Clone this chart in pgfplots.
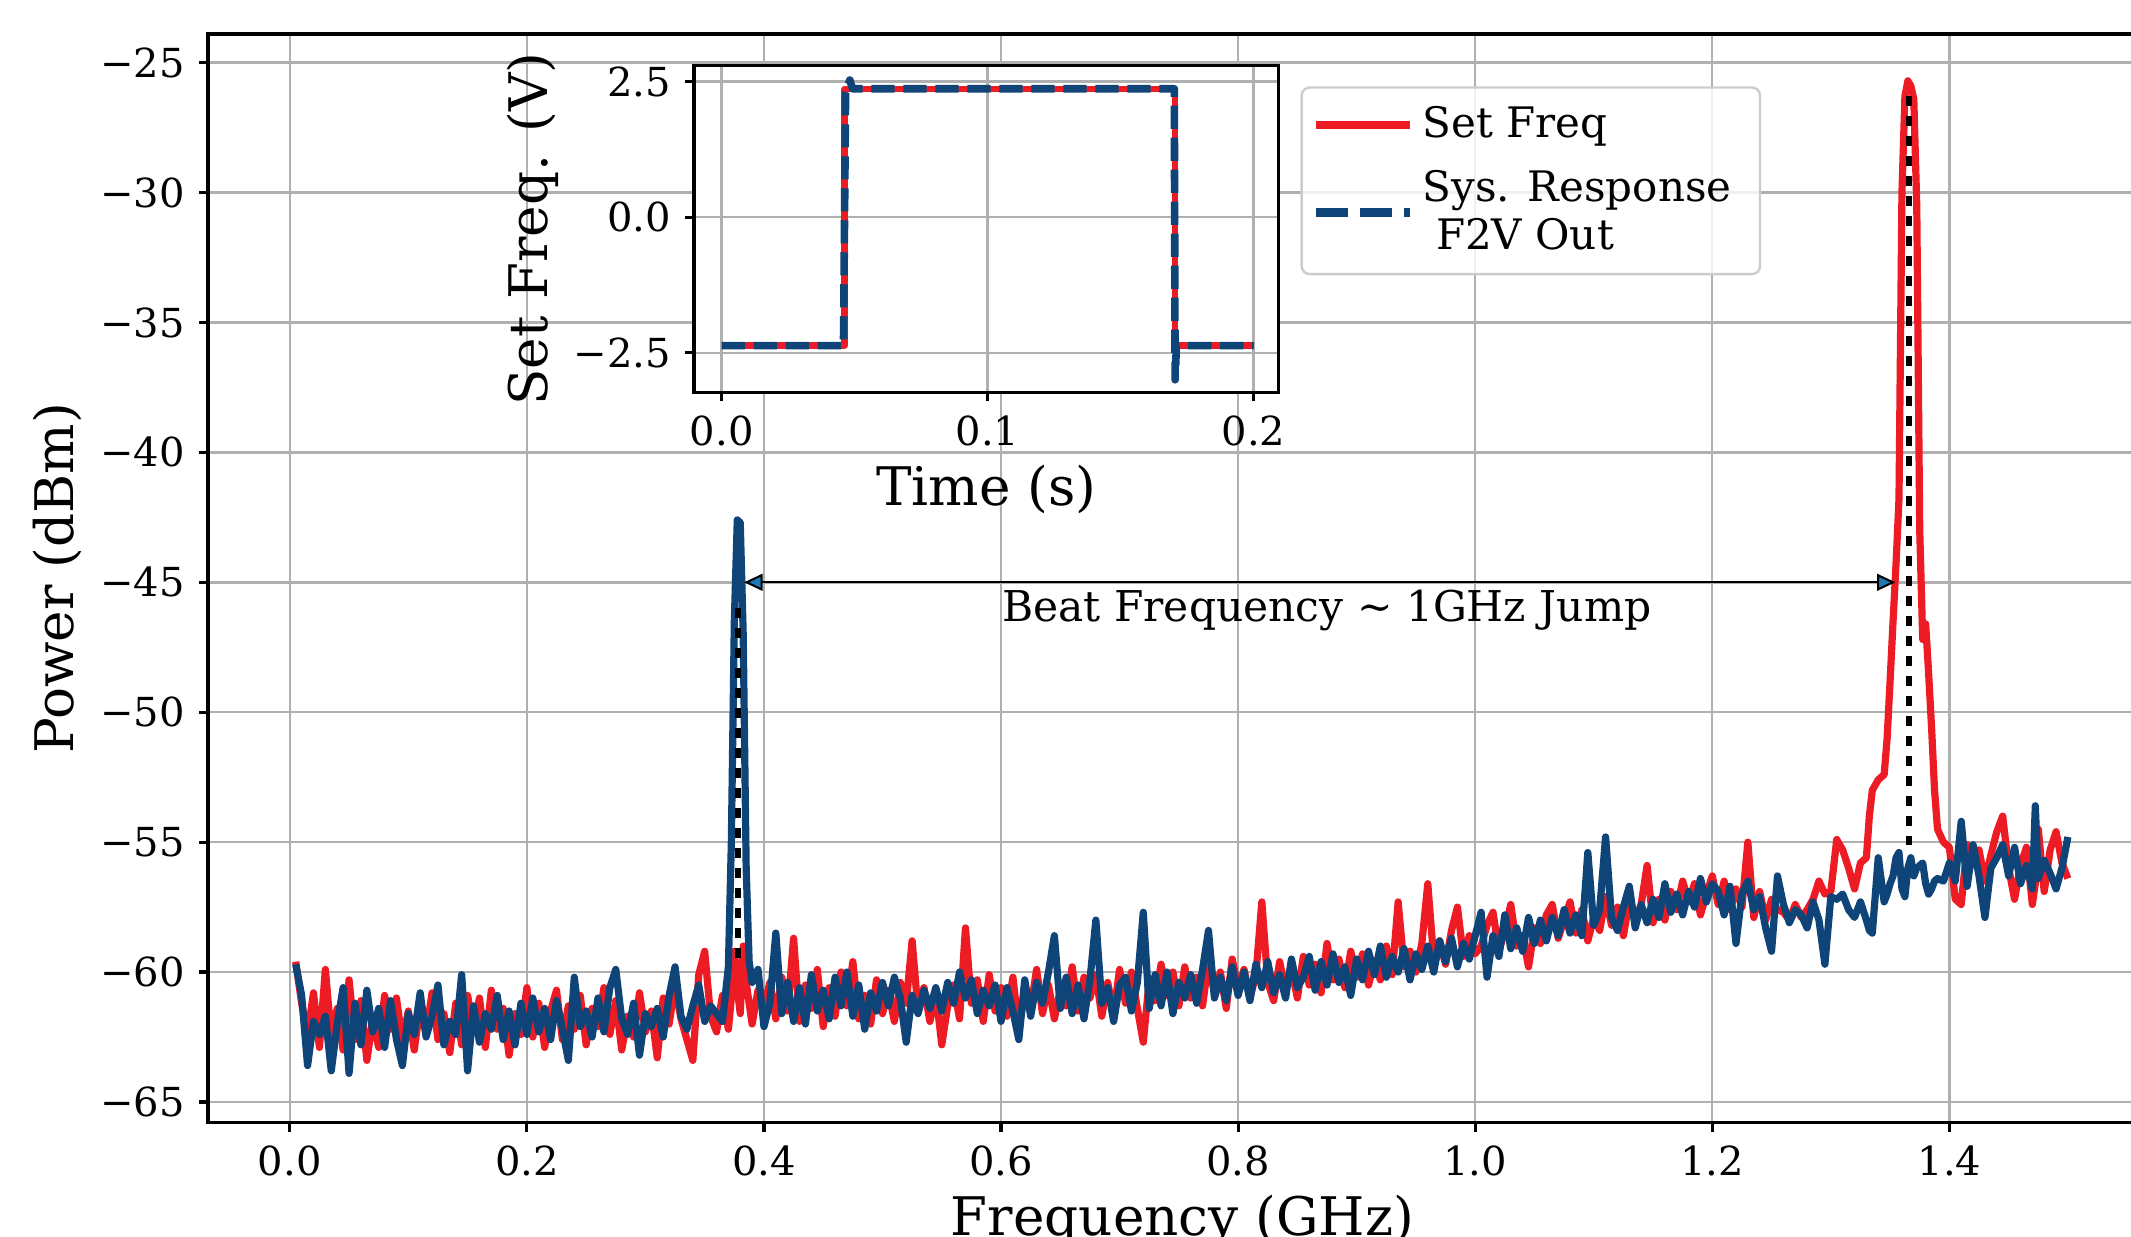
\documentclass[border=0pt]{standalone}
\usepackage{fontspec}
\setmainfont{DejaVu Serif}
\usepackage{pgfplots}
\usepackage{pgfplotstable}
\pgfplotsset{compat=1.18}
\usetikzlibrary{arrows.meta}

\definecolor{setred}{HTML}{ED1C24}
\definecolor{sysblue}{HTML}{0E4478}
\definecolor{gridgray}{HTML}{B0B0B0}
\definecolor{tipblue}{HTML}{1F77B4}
\definecolor{legframe}{HTML}{CCCCCC}

% spectrum: f (GHz), set freq (dBm), system response (dBm)
\pgfplotstableread{
f r b
0.005 -59.6 -59.7
0.010 -61.2 -60.9
0.015 -62.4 -63.6
0.020 -60.8 -61.9
0.025 -62.9 -62.4
0.030 -59.9 -61.7
0.035 -62.5 -63.8
0.040 -61.4 -62.0
0.045 -63.0 -60.6
0.050 -60.3 -63.9
0.055 -62.6 -61.2
0.060 -61.1 -62.8
0.065 -63.4 -60.7
0.070 -61.8 -62.3
0.075 -62.9 -61.4
0.080 -60.9 -62.9
0.085 -62.2 -61.1
0.090 -61.0 -62.6
0.095 -62.7 -63.6
0.100 -61.5 -61.6
0.105 -63.0 -62.4
0.110 -61.3 -60.8
0.115 -62.4 -62.5
0.120 -60.8 -61.7
0.125 -62.6 -60.5
0.130 -61.6 -62.8
0.135 -63.1 -61.9
0.140 -61.2 -62.4
0.145 -62.8 -60.1
0.150 -60.9 -63.8
0.155 -62.3 -61.3
0.160 -61.0 -62.7
0.165 -62.9 -61.6
0.170 -60.7 -62.2
0.175 -62.2 -60.9
0.180 -61.4 -62.6
0.185 -63.2 -61.5
0.190 -61.6 -62.8
0.195 -62.4 -61.2
0.200 -60.6 -62.4
0.205 -62.5 -61.0
0.210 -61.2 -62.3
0.215 -62.9 -61.4
0.220 -61.5 -62.6
0.225 -60.7 -61.1
0.230 -62.6 -62.2
0.235 -61.3 -63.4
0.240 -62.2 -60.2
0.245 -60.9 -62.1
0.250 -62.8 -61.5
0.255 -61.4 -62.5
0.260 -62.1 -61.0
0.265 -60.6 -62.3
0.270 -62.4 -60.6
0.275 -61.1 -59.9
0.280 -63.0 -61.8
0.285 -61.7 -62.4
0.290 -62.5 -61.2
0.295 -60.8 -63.2
0.300 -62.3 -61.6
0.305 -61.5 -62.1
0.310 -63.3 -61.4
0.315 -61.0 -62.5
0.320 -62.0 -60.9
0.325 -60.5 -59.8
0.330 -61.8 -61.7
0.335 -62.6 -62.2
0.340 -63.4 -61.3
0.345 -60.1 -60.5
0.350 -59.2 -61.9
0.355 -61.7 -61.3
0.360 -62.3 -61.6
0.365 -60.9 -61.9
0.370 -62.2 -59.8
0.3725 -61.0 -55.0
0.375 -59.2 -46.5
0.3775 -60.6 -42.6
0.380 -61.6 -42.7
0.3825 -59.0 -47.0
0.385 -60.4 -56.0
0.3875 -61.2 -59.6
0.390 -62.0 -60.4
0.395 -60.7 -59.9
0.400 -61.3 -62.1
0.405 -60.4 -61.2
0.410 -61.8 -58.5
0.415 -60.2 -61.6
0.420 -61.5 -60.4
0.425 -58.7 -61.9
0.430 -61.9 -60.6
0.435 -60.5 -62.0
0.440 -61.4 -60.1
0.445 -59.9 -61.5
0.450 -62.1 -60.7
0.455 -60.6 -61.8
0.460 -61.7 -60.2
0.465 -60.0 -61.3
0.470 -61.3 -60.0
0.475 -59.6 -61.7
0.480 -61.8 -60.5
0.485 -60.9 -62.2
0.490 -62.0 -60.8
0.495 -60.3 -61.5
0.500 -61.6 -60.4
0.505 -60.7 -61.3
0.510 -61.9 -60.2
0.515 -60.4 -61.0
0.520 -61.2 -62.7
0.525 -58.8 -60.9
0.530 -61.5 -61.6
0.535 -60.6 -60.7
0.540 -61.9 -61.4
0.545 -60.8 -60.6
0.550 -62.8 -61.5
0.555 -61.3 -60.4
0.560 -60.5 -61.2
0.565 -61.8 -60.0
0.570 -58.3 -61.0
0.575 -61.2 -60.3
0.580 -60.3 -61.6
0.585 -61.9 -60.7
0.590 -60.1 -61.3
0.595 -61.5 -60.5
0.600 -60.6 -61.9
0.605 -61.7 -60.6
0.610 -60.2 -61.5
0.615 -62.2 -62.6
0.620 -60.8 -60.3
0.625 -61.4 -61.7
0.630 -59.9 -60.4
0.635 -61.6 -61.2
0.640 -60.5 -60.0
0.645 -61.8 -58.6
0.650 -60.7 -61.4
0.655 -61.3 -60.2
0.660 -59.8 -61.6
0.665 -61.5 -60.5
0.670 -60.2 -61.8
0.675 -61.0 -60.3
0.680 -60.1 -58.0
0.685 -61.7 -61.2
0.690 -60.4 -60.6
0.695 -61.6 -61.9
0.700 -59.9 -60.5
0.705 -61.2 -60.2
0.710 -60.0 -61.5
0.715 -61.4 -60.4
0.720 -62.7 -57.7
0.725 -60.3 -61.4
0.730 -61.1 -60.1
0.735 -59.7 -61.3
0.740 -60.9 -60.0
0.745 -60.0 -61.6
0.750 -61.3 -60.4
0.755 -59.8 -61.0
0.760 -61.0 -60.1
0.765 -60.2 -61.2
0.770 -61.3 -59.9
0.775 -59.6 -58.4
0.780 -60.8 -61.0
0.785 -60.0 -60.2
0.790 -61.4 -61.1
0.795 -59.5 -59.8
0.800 -60.6 -60.9
0.805 -59.9 -60.0
0.810 -61.0 -61.1
0.815 -60.1 -59.7
0.820 -57.3 -60.6
0.825 -60.4 -59.6
0.830 -61.1 -60.8
0.835 -59.6 -60.1
0.840 -60.7 -61.0
0.845 -59.9 -59.5
0.850 -61.0 -60.6
0.855 -59.4 -60.2
0.860 -60.5 -59.4
0.865 -59.7 -60.7
0.870 -60.8 -59.6
0.875 -58.9 -60.5
0.880 -60.3 -59.3
0.885 -59.5 -60.4
0.890 -60.6 -59.8
0.895 -59.2 -60.9
0.900 -60.2 -59.5
0.905 -59.3 -60.3
0.910 -60.5 -59.2
0.915 -59.6 -60.1
0.920 -60.3 -59.0
0.925 -59.0 -60.2
0.930 -60.1 -59.4
0.935 -57.3 -60.0
0.940 -59.8 -59.1
0.945 -59.2 -60.3
0.950 -60.0 -59.3
0.955 -58.9 -59.9
0.960 -56.6 -59.0
0.965 -59.5 -60.0
0.970 -58.8 -58.8
0.975 -59.7 -59.6
0.980 -58.4 -58.7
0.985 -57.5 -59.8
0.990 -59.4 -58.9
0.995 -58.6 -59.5
1.000 -59.3 -58.6
1.005 -59.0 -57.7
1.010 -58.2 -60.2
1.015 -57.7 -58.6
1.020 -59.2 -59.4
1.025 -58.4 -57.8
1.030 -57.4 -59.1
1.035 -59.0 -58.3
1.040 -58.6 -59.2
1.045 -59.8 -57.9
1.050 -58.3 -58.9
1.055 -58.9 -58.0
1.060 -57.8 -58.8
1.065 -57.4 -57.9
1.070 -58.7 -58.6
1.075 -58.0 -57.6
1.080 -57.3 -58.5
1.085 -58.5 -57.8
1.090 -57.6 -58.6
1.095 -58.8 -55.4
1.100 -57.9 -58.2
1.105 -58.4 -57.6
1.110 -57.1 -54.8
1.115 -58.2 -57.9
1.120 -57.5 -58.4
1.125 -58.6 -57.5
1.130 -57.3 -56.7
1.135 -58.0 -58.3
1.140 -57.4 -57.4
1.145 -55.9 -58.1
1.150 -58.1 -57.2
1.155 -57.2 -57.9
1.160 -58.0 -56.6
1.165 -56.9 -57.7
1.170 -57.6 -57.0
1.175 -56.5 -57.8
1.180 -57.3 -56.9
1.185 -56.6 -57.5
1.190 -57.8 -56.4
1.195 -57.0 -57.3
1.200 -56.3 -56.6
1.205 -57.4 -56.9
1.210 -56.5 -57.8
1.215 -57.6 -56.7
1.220 -56.8 -58.9
1.225 -57.5 -57.0
1.230 -55.0 -56.5
1.235 -57.9 -57.6
1.240 -56.9 -57.1
1.245 -58.0 -58.3
1.250 -57.2 -59.2
1.255 -57.6 -56.3
1.260 -57.7 -57.4
1.265 -58.0 -58.1
1.270 -57.4 -57.6
1.275 -57.9 -57.8
1.280 -57.6 -58.3
1.285 -57.2 -57.3
1.290 -56.5 -58.0
1.295 -57.0 -59.7
1.300 -56.9 -57.1
1.305 -54.9 -57.2
1.310 -55.3 -57.0
1.315 -56.0 -57.6
1.320 -56.8 -57.9
1.325 -55.8 -57.3
1.330 -55.6 -58.0
1.3325 -54.0 -58.4
1.335 -53.0 -58.5
1.340 -52.6 -55.6
1.345 -52.4 -57.3
1.3475 -51.0 -57.0
1.350 -48.8 -56.6
1.3525 -46.5 -56.3
1.355 -44.3 -55.6
1.3575 -41.8 -55.4
1.360 -30.0 -56.8
1.3625 -26.3 -57.1
1.365 -25.7 -56.0
1.3675 -25.9 -55.6
1.370 -26.4 -56.3
1.3725 -30.5 -56.0
1.375 -43.0 -55.9
1.3775 -47.2 -55.8
1.380 -46.6 -56.6
1.3825 -48.5 -57.0
1.385 -50.6 -56.8
1.3875 -53.0 -56.5
1.390 -54.5 -56.4
1.395 -55.0 -56.5
1.400 -55.2 -55.8
1.405 -57.2 -56.5
1.410 -57.4 -54.2
1.415 -55.1 -56.7
1.420 -55.6 -55.1
1.425 -55.3 -56.3
1.430 -56.5 -57.9
1.435 -55.5 -56.0
1.440 -54.6 -55.6
1.445 -54.0 -55.1
1.450 -56.0 -56.3
1.455 -57.2 -55.2
1.460 -55.9 -56.6
1.465 -55.2 -55.9
1.470 -57.4 -56.8
1.4725 -56.6 -53.6
1.475 -54.5 -56.4
1.480 -56.9 -55.7
1.485 -55.3 -56.2
1.490 -54.6 -56.8
1.495 -55.8 -56.0
1.500 -56.4 -54.8
}\spectrum

\begin{document}
\begin{tikzpicture}
\pgfplotsset{
  mplstyle/.style={
    scale only axis,
    tick align=outside, tick pos=left,
    major tick length=2.3pt,
    every tick/.style={black, line width=0.8pt},
    axis line style={line width=0.8pt},
    grid=major, grid style={gridgray, line width=0.6pt},
    ticklabel style={font=\fontsize{10}{12}\selectfont},
    label style={font=\fontsize{13.3}{16}\selectfont},
  },
}
\begin{axis}[mplstyle, name=main,
  width=487.2pt, height=272.1pt,
  xmin=-0.069, xmax=1.575, ymin=-65.79, ymax=-23.90,
  xtick={0,0.2,0.4,0.6,0.8,1.0,1.2,1.4},
  xticklabels={0.0,0.2,0.4,0.6,0.8,1.0,1.2,1.4},
  ytick={-65,-60,-55,-50,-45,-40,-35,-30,-25},
  yticklabels={−65,−60,−55,−50,−45,−40,−35,−30,−25},
  xlabel={Frequency (GHz)}, ylabel={Power (dBm)},
  xlabel style={at={(axis description cs:0.5,0)}, anchor=base, yshift=-28.25pt},
  ylabel style={at={(axis description cs:-0.0775,0.5)}, anchor=center},
  legend cell align=left,
  legend style={at={(axis description cs:0.5612,0.9508)}, anchor=north west,
    xshift=1.4pt, draw=none, fill=none,
    font=\fontsize{10.5}{12}\selectfont,
    inner xsep=0.85pt, inner ysep=2.5pt, row sep=2pt,
    nodes={inner sep=2pt}},
  legend image code/.code={\draw[#1] (0pt,0pt) -- (23.6pt,0pt);},
]
\addlegendimage{setred, line width=2.2pt}
\addlegendentry{Set Freq}
\addlegendimage{sysblue, line width=2.2pt, dash pattern=on 8pt off 3pt, yshift=-3.2pt}
\addlegendentry{\begin{tabular}{@{}l@{}}Sys. Response\\\ F2V Out\end{tabular}}

\addplot[setred, line width=1.8pt, line join=round, forget plot] table[x=f, y=r] {\spectrum};
\addplot[sysblue, line width=1.8pt, line join=round, forget plot] table[x=f, y=b] {\spectrum};

\addplot[black, line width=1.5pt, dash pattern=on 2.4pt off 2.6pt, forget plot]
  coordinates {(0.3782,-46.0) (0.3782,-59.7)};
\addplot[black, line width=1.5pt, dash pattern=on 2.4pt off 2.6pt, forget plot]
  coordinates {(1.3656,-26.3) (1.3656,-55.1)};

\draw[line width=0.5pt,
  {Triangle[length=4.6pt,width=4.2pt,fill=tipblue]}-{Triangle[length=4.6pt,width=4.2pt,fill=tipblue]}]
  (axis cs:0.3833,-45) -- (axis cs:1.3545,-45);
\node[anchor=base west, inner sep=0pt, font=\fontsize{10.6}{12}\selectfont]
  at (axis cs:0.6003,-46.52) {Beat Frequency \textasciitilde\ 1GHz Jump};

% legend frame
\draw[legframe, line width=0.6pt, fill=white, fill opacity=0.8, rounded corners=2pt]
  (axis description cs:0.5612,0.7795) rectangle (axis description cs:0.7964,0.9509);
\end{axis}

\begin{axis}[mplstyle,
  at={(main.south west)}, anchor=south west, xshift=121.5pt, yshift=182.55pt,
  width=146.2pt, height=81.65pt,
  axis background/.style={fill=white},
  xmin=-0.0104, xmax=0.2095, ymin=-3.23, ymax=2.795,
  xtick={0,0.1,0.2}, xticklabels={0.0,0.1,0.2},
  ytick={-2.5,0,2.5}, yticklabels={−2.5,0.0,2.5},
  xlabel={Time (s)}, ylabel={Set Freq. (V)},
  xlabel style={at={(axis description cs:0.5,0)}, anchor=base, yshift=-28.2pt},
  ylabel style={at={(axis description cs:-0.2753,0.5)}, anchor=center},
]
\addplot[setred, line width=1.6pt, line join=round] coordinates {
  (0,-2.37) (0.0462,-2.37) (0.0462,2.36) (0.1705,2.36) (0.1705,-2.37) (0.2,-2.37)};
\addplot[sysblue, line width=1.9pt, line join=round, dash pattern=on 5.8pt off 2.2pt] coordinates {
  (0,-2.37) (0.0458,-2.37) (0.0466,2.30) (0.0482,2.53) (0.0492,2.37)
  (0.1702,2.37) (0.1705,-3.0) (0.1710,-2.37) (0.2,-2.37)};
\end{axis}

\pgfresetboundingbox
\path[use as bounding box] ([shift={(-52pt,-28.625pt)}]main.south west)
  rectangle ([shift={(480.75pt,280.625pt)}]main.south west);
\end{tikzpicture}
\end{document}
